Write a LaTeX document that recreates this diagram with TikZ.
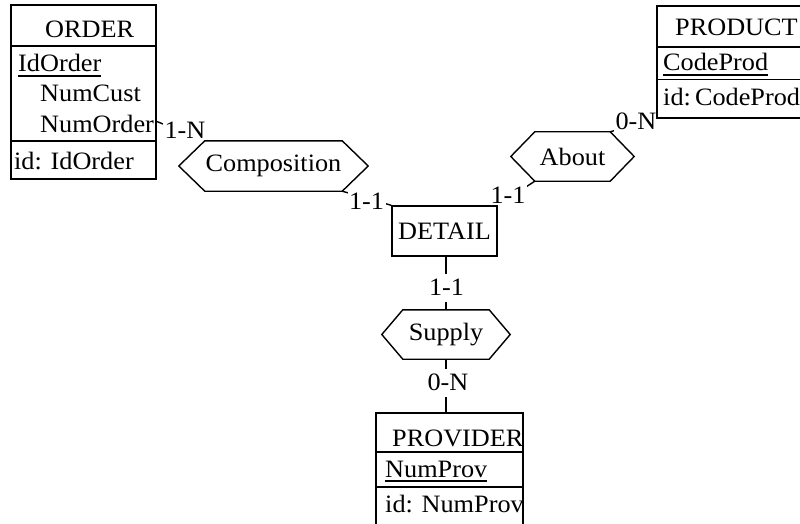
\documentclass[tikz,border=0pt]{standalone}
\usepackage{fontspec}
\setmainfont[FakeStretch=1.05]{Liberation Serif}
\usetikzlibrary{backgrounds}

% relationship outline: a hexagon built on the core rectangle of a node
\newcommand{\relhexagon}[2]{%
  \draw[hexline] (#1.north west) -- (#1.north east) -- ([xshift=#2]#1.east)
    -- (#1.south east) -- (#1.south west) -- ([xshift=-#2]#1.west) -- cycle;}

\begin{document}
\begin{tikzpicture}[x=1pt,y=-1pt,
  every node/.style={font=\fontsize{25}{30}\selectfont},
  entity/.style={draw, line width=1.4pt, rectangle, inner sep=0pt},
  relcore/.style={rectangle, inner sep=0pt},
  hexline/.style={line width=1.4pt, line join=miter},
  divider/.style={line width=1.4pt},
  attr/.style={inner sep=0pt, anchor=base west},
  keyline/.style={line width=2pt},
  link/.style={line width=1.4pt},
  card/.style={fill=white, inner xsep=1.5pt, inner ysep=0pt,
               text height=21pt, text depth=7pt, anchor=base}]

\useasboundingbox (0,0) rectangle (800,524);
\clip (0,0) rectangle (800,524);

% ---------------- ORDER ----------------
\node[entity, minimum width=145pt, minimum height=174pt] (order) at (83.5,92) {};
\node[attr] (order-title) at (45,38) {ORDER};
\draw[divider] (order.west |- 0,46) -- (order.east |- 0,46);
\node[attr] (order-id) at (18,72) {IdOrder};
\draw[keyline] ([yshift=-4pt]order-id.base west) -- ([yshift=-4pt]order-id.base east);
\node[attr] (order-cust) at (40,102) {NumCust};
\node[attr] (order-num) at (40,132) {NumOrder};
\draw[divider] (order.west |- 0,141) -- (order.east |- 0,141);
\node[attr] (order-key) at (14,169) {id: IdOrder};

% ---------------- PRODUCT ----------------
\node[entity, minimum width=156pt, minimum height=112pt] (product) at (735,62) {};
\node[attr] (product-title) at (675,36) {PRODUCT};
\draw[divider] (product.west |- 0,47) -- (product.east |- 0,47);
\node[attr] (product-id) at (663,71) {CodeProd};
\draw[keyline] ([yshift=-4pt]product-id.base west) -- ([yshift=-4pt]product-id.base east);
\draw[divider] (product.west |- 0,79.5) -- (product.east |- 0,79.5);
\node[attr] (product-key) at (663,106) {id:\,CodeProd};

% ---------------- PROVIDER ----------------
\node[entity, minimum width=147pt, minimum height=117pt] (provider) at (449.5,471.5) {};
\node[attr] (provider-title) at (392,446) {PROVIDER};
\draw[divider] (provider.west |- 0,452) -- (provider.east |- 0,452);
\node[attr] (provider-id) at (385,477) {NumProv};
\draw[keyline] ([yshift=-4pt]provider-id.base west) -- ([yshift=-4pt]provider-id.base east);
\draw[divider] (provider.west |- 0,487) -- (provider.east |- 0,487);
\node[attr] (provider-key) at (385,512) {id: NumProv};

% ---------------- DETAIL ----------------
\node[entity, minimum width=105pt, minimum height=50pt] (detail) at (444.5,231) {DETAIL};

% ---------------- relationships ----------------
\node[relcore, minimum width=137pt, minimum height=50pt] (comp) at (273.5,166) {Composition};
\relhexagon{comp}{26pt}
\node[relcore, minimum width=75pt, minimum height=49pt] (about) at (572.5,156.5) {About};
\relhexagon{about}{24pt}
\node[relcore, minimum width=86pt, minimum height=49pt] (supply) at (446,334.5) {Supply};
\relhexagon{supply}{21pt}

% ---------------- roles and cardinalities ----------------
\begin{scope}[on background layer]
  \draw[link] (order) -- (comp.north west);
  \node[card] (card-order) at (185,139) {1-N};

  \draw[link] (comp.south east) -- (detail.north west);
  \node[card] (card-comp) at (366.5,209) {1-1};

  \draw[link] (about.south west) -- (detail.north east);
  \node[card] (card-about) at (508,203) {1-1};

  \draw[link] (about.north east) -- (product.south west);
  \node[card] (card-product) at (636,130) {0-N};

  \draw[link] (supply.north |- detail.south) -- (supply.north);
  \node[card] (card-supply) at (446.5,295) {1-1};

  \draw[link] (supply.south) -- (supply.south |- provider.north);
  \node[card] (card-provider) at (448,390) {0-N};
\end{scope}

\end{tikzpicture}
\end{document}
